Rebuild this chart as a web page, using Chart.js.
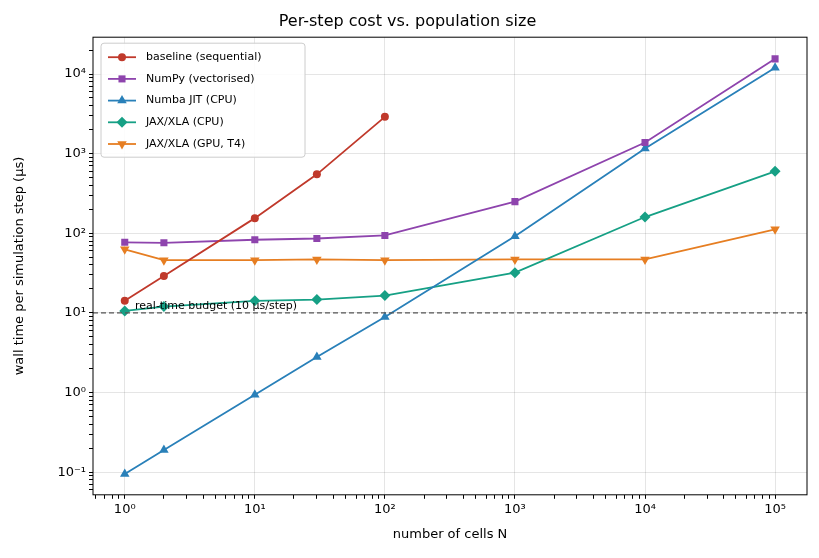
<!DOCTYPE html>
<html><head><meta charset="utf-8">
<script src="https://cdn.jsdelivr.net/npm/chart.js@4/dist/chart.umd.min.js"></script>
<style>html,body{margin:0;background:#fff}#w{width:819px;height:558px}</style>
</head><body><div id="w"><canvas id="c"></canvas></div>
<script>
const seriesNames=["baseline (sequential)","NumPy (vectorised)","Numba JIT (CPU)","JAX/XLA (CPU)","JAX/XLA (GPU, T4)"];
const colors=["#c0392b","#8e44ad","#2980b9","#16a085","#e67e22"];
const markers=["circle","rect","triangle","rectRot","triangle"];
const radii=[4,5,5.5,5.5,5.5];
const xBaseline=[1,2,10,30,100];
const yBaseline=[14.2,29,155,550,2900];
const xAll=[1,2,10,30,100,1000,10000,100000];
const yNumpy=[77,76,83,86,94,250,1380,15500];
const yNumba=[0.095,0.19,0.94,2.8,8.9,92,1160,12000];
const yJaxCpu=[10.6,12,14.2,14.7,16.5,32,160,600];
const yJaxGpu=[63,46,46,47,46,47,47,112];
const budget=10;
const sup={"-":"⁻","0":"⁰","1":"¹","2":"²","3":"³","4":"⁴","5":"⁵","6":"⁶","7":"⁷","8":"⁸","9":"⁹"};
const pow=v=>{const e=Math.round(Math.log10(v));return Math.abs(Math.log10(v)-e)<1e-6?"10"+String(e).split("").map(c=>sup[c]).join(""):"";};
const mk=(xs,ys,i)=>({label:seriesNames[i],data:xs.map((x,j)=>({x,y:ys[j]})),borderColor:colors[i],backgroundColor:colors[i],pointStyle:markers[i],rotation:i==4?180:0,pointRadius:radii[i],borderWidth:1.8,pointBorderWidth:0});
function logTicks(min,max){const t=[];for(let e=Math.floor(Math.log10(min));e<=Math.ceil(Math.log10(max));e++)for(let k=1;k<10;k++){const v=k*Math.pow(10,e);if(v>=min&&v<=max)t.push({value:v});}return t;}
const isMaj=v=>pow(v)!=="";
const frame={id:"frame",afterDraw(ch){const {ctx,chartArea:a,scales}=ch;ctx.save();
 const y=scales.y.getPixelForValue(budget);ctx.strokeStyle="#555";ctx.lineWidth=1.2;ctx.setLineDash([5,3]);ctx.beginPath();ctx.moveTo(a.left,y);ctx.lineTo(a.right,y);ctx.stroke();ctx.setLineDash([]);
 ctx.fillStyle="#000";ctx.font="11px 'DejaVu Sans'";ctx.textBaseline="bottom";ctx.fillText("real-time budget (10 µs/step)",scales.x.getPixelForValue(1.2),y-1);
 ctx.strokeStyle="#000";ctx.lineWidth=1;ctx.strokeRect(a.left,a.top,a.right-a.left,a.bottom-a.top);
 const lx=a.left+8,ly=a.top+6;ctx.fillStyle="rgba(255,255,255,0.85)";ctx.strokeStyle="#ccc";ctx.beginPath();ctx.roundRect(lx,ly,204,114,3);ctx.fill();ctx.stroke();
 ch.data.datasets.forEach((d,i)=>{const yy=ly+14+i*21.7;ctx.setLineDash([]);ctx.strokeStyle=d.borderColor;ctx.lineWidth=1.8;ctx.beginPath();ctx.moveTo(lx+7,yy);ctx.lineTo(lx+35,yy);ctx.stroke();
  ctx.fillStyle=d.borderColor;Chart.helpers.drawPoint(ctx,{pointStyle:d.pointStyle,rotation:d.rotation,radius:d.pointRadius,borderWidth:0},lx+21,yy);
  ctx.fillStyle="#000";ctx.font="11px 'DejaVu Sans'";ctx.textBaseline="middle";ctx.fillText(d.label,lx+45,yy);});
 ctx.restore();}};
new Chart(document.getElementById("c"),{type:"line",
data:{datasets:[mk(xBaseline,yBaseline,0),mk(xAll,yNumpy,1),mk(xAll,yNumba,2),mk(xAll,yJaxCpu,3),mk(xAll,yJaxGpu,4)]},
options:{responsive:true,maintainAspectRatio:false,animation:false,layout:{padding:{left:8,right:12,top:2,bottom:12}},
plugins:{legend:{display:false},tooltip:{enabled:false},title:{display:true,text:"Per-step cost vs. population size",color:"#000",font:{size:16,family:"DejaVu Sans",weight:"normal"},padding:{top:10,bottom:6}}},
scales:{x:{type:"logarithmic",min:0.57,max:176000,afterBuildTicks:s=>{s.ticks=logTicks(0.57,176000)},
 ticks:{autoSkip:false,maxRotation:0,color:"#000",font:{size:13,family:"DejaVu Sans"},callback:v=>pow(v)},
 grid:{color:c=>c.tick&&isMaj(c.tick.value)?"rgba(0,0,0,0.1)":"rgba(0,0,0,0)",tickColor:"#000",tickLength:4},border:{display:false},
 title:{display:true,text:"number of cells N",color:"#000",font:{size:13,family:"DejaVu Sans"},padding:{top:6}}},
y:{type:"logarithmic",min:0.052,max:29000,afterBuildTicks:s=>{s.ticks=logTicks(0.052,29000)},afterFit:s=>{s.width=85},
 ticks:{autoSkip:false,color:"#000",font:{size:13,family:"DejaVu Sans"},callback:v=>pow(v)},
 grid:{color:c=>c.tick&&isMaj(c.tick.value)?"rgba(0,0,0,0.1)":"rgba(0,0,0,0)",tickColor:"#000",tickLength:4},border:{display:false},
 title:{display:true,text:"wall time per simulation step (µs)",color:"#000",font:{size:13,family:"DejaVu Sans"}}}}},
plugins:[frame]});
</script></body></html>
